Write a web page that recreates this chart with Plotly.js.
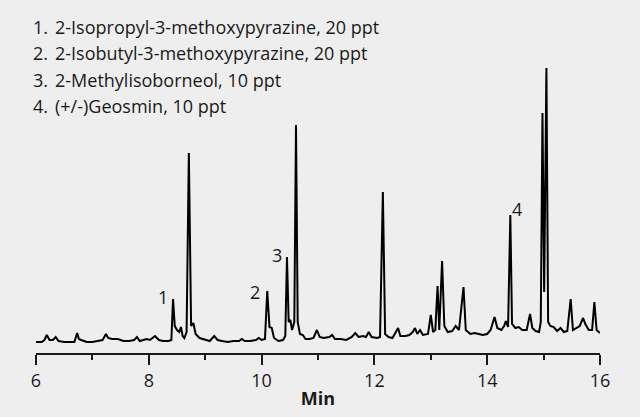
<!DOCTYPE html>
<html>
<head>
<meta charset="utf-8">
<script src="https://cdn.plot.ly/plotly-3.0.1.min.js"></script>
<style>html,body{margin:0;padding:0;background:#eeeeee;}#chart{width:640px;height:417px;}</style>
</head>
<body>
<div id="chart"></div>
<script>
// Retention time (min) and detector response (arbitrary units)
const times = [6.00,6.10,6.15,6.19,6.24,6.30,6.35,6.40,6.50,6.60,6.68,6.73,6.76,6.80,6.90,7.00,7.10,7.18,7.24,7.28,7.35,7.45,7.55,7.65,7.74,7.79,7.84,7.90,7.96,8.02,8.11,8.18,8.25,8.35,8.40,8.43,8.46,8.50,8.54,8.57,8.60,8.63,8.67,8.71,8.75,8.79,8.83,8.90,9.00,9.08,9.16,9.22,9.30,9.40,9.50,9.60,9.65,9.70,9.80,9.90,9.95,10.00,10.06,10.10,10.14,10.18,10.22,10.30,10.38,10.42,10.45,10.48,10.51,10.54,10.58,10.61,10.64,10.68,10.73,10.78,10.85,10.92,10.98,11.03,11.10,11.20,11.25,11.30,11.40,11.50,11.60,11.66,11.72,11.80,11.85,11.90,11.95,12.05,12.10,12.15,12.19,12.25,12.32,12.42,12.46,12.55,12.62,12.68,12.72,12.76,12.81,12.86,12.95,13.00,13.04,13.08,13.12,13.15,13.20,13.24,13.30,13.38,13.44,13.50,13.58,13.62,13.70,13.78,13.85,13.92,14.00,14.06,14.13,14.18,14.25,14.30,14.33,14.37,14.41,14.44,14.50,14.56,14.62,14.70,14.76,14.80,14.86,14.92,14.95,14.98,15.01,15.05,15.08,15.12,15.18,15.24,15.30,15.36,15.42,15.48,15.52,15.58,15.64,15.70,15.74,15.80,15.86,15.90,15.94,16.00];
const response = [10,10,12,17,12,12,15,11,10,10,10,19,13,12,10,10,11,12,18,14,13,13,11,11,12,15,11,12,13,12,16,12,11,11,12,53,26,22,20,25,16,14,20,199,26,29,18,14,12,11,16,12,11,10,11,11,13,11,11,12,14,12,13,61,25,24,14,11,12,16,95,30,32,22,30,227,30,18,17,13,13,14,22,15,14,15,17,13,13,12,15,19,15,16,15,20,15,14,15,160,18,15,14,24,16,16,17,20,24,18,22,17,18,37,20,22,66,22,91,26,20,21,26,22,65,22,18,19,18,17,18,22,35,24,22,26,31,25,137,28,24,25,22,22,38,24,21,20,30,239,60,284,30,26,25,21,24,20,21,53,22,24,26,34,28,22,22,50,22,19];

// Peak labels
const peakLabels = ['1','2','3','4'];
const peakLabelTimes = [8.25,9.89,10.28,14.53];
const peakLabelHeights = [55,60,97,143];

// Compound list
const compoundNumbers = ['1.','2.','3.','4.'];
const compoundNames = ['2-Isopropyl-3-methoxypyrazine, 20 ppt','2-Isobutyl-3-methoxypyrazine, 20 ppt','2-Methylisoborneol, 10 ppt','(+/-)Geosmin, 10 ppt'];

// x ticks
const tickVals = [6,8,10,12,14,16];

const font = '"Open Sans", "Noto Sans", sans-serif';
const legendY = [1.0417,0.9583,0.8734,0.7885];

const annotations = [];
peakLabels.forEach((lab,i)=>{
  annotations.push({x:peakLabelTimes[i], y:peakLabelHeights[i], xref:'x', yref:'y', text:lab, showarrow:false, xanchor:'center', yanchor:'middle', font:{family:font,size:18,color:'#1a1a1a'}});
});
compoundNumbers.forEach((n,i)=>{
  annotations.push({x:-0.0089, y:legendY[i], xref:'paper', yref:'paper', text:n, showarrow:false, xanchor:'left', yanchor:'middle', font:{family:font,size:18,color:'#1a1a1a'}});
  annotations.push({x:0.0301, y:legendY[i], xref:'paper', yref:'paper', text:compoundNames[i], showarrow:false, xanchor:'left', yanchor:'middle', font:{family:font,size:18,color:'#1a1a1a'}});
});

const trace = {x:times, y:response, type:'scatter', mode:'lines', line:{color:'#000000', width:2}, hoverinfo:'skip'};

const layout = {
  width:640, height:417,
  paper_bgcolor:'#eeeeee', plot_bgcolor:'#eeeeee',
  margin:{l:36, r:40, t:40, b:64},
  showlegend:false,
  xaxis:{range:[6,16], tickvals:tickVals, ticks:'outside', ticklen:10, tickwidth:2, tickcolor:'#1a1a1a',
    showline:true, linecolor:'#1a1a1a', linewidth:2, showgrid:false, zeroline:false,
    minor:{dtick:1, tick0:6, ticks:'outside', ticklen:5, tickwidth:2, tickcolor:'#1a1a1a', showgrid:false},
    tickfont:{family:font, size:18, color:'#1a1a1a'},
    title:{text:'<b>Min</b>', font:{family:font, size:18, color:'#1a1a1a'}, standoff:2}},
  yaxis:{range:[-1,312], visible:false, showgrid:false, zeroline:false},
  annotations:annotations
};

Plotly.newPlot('chart',[trace],layout,{displayModeBar:false, staticPlot:true});
</script>
</body>
</html>
